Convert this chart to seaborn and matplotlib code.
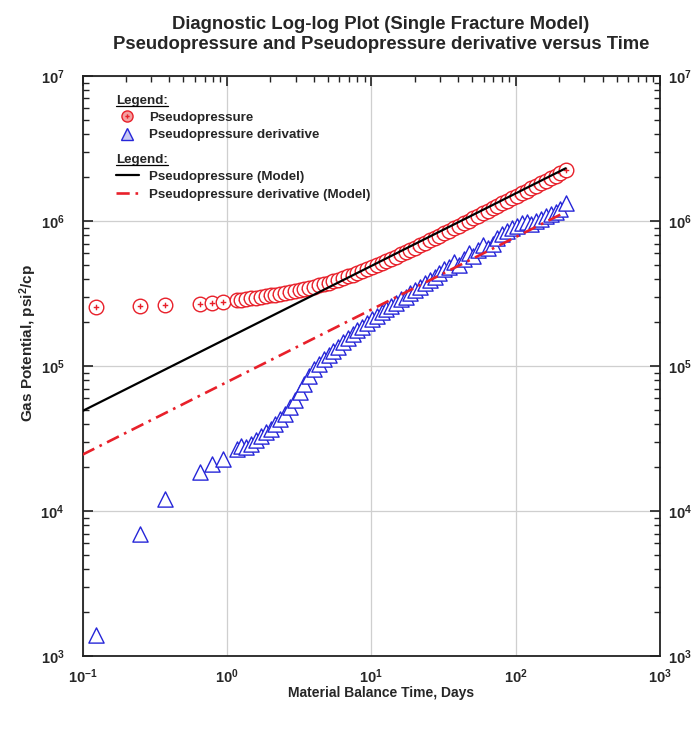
import numpy as np
import pandas as pd
import matplotlib
matplotlib.use("Agg")
import matplotlib.pyplot as plt
from matplotlib.path import Path
from matplotlib.lines import Line2D
import seaborn as sns

# ---------------- data ----------------
time_days = [0.125, 0.25, 0.375, 0.65, 0.79, 0.94,
             1.17, 1.26, 1.36, 1.47, 1.59, 1.72, 1.86, 2.01, 2.17, 2.34,
             2.53, 2.73, 2.95, 3.19, 3.44, 3.72, 4.02, 4.34, 4.69, 5.06,
             5.47, 5.90, 6.38, 6.89, 7.44, 8.03, 8.67, 9.37, 10.1, 10.9,
             11.8, 12.7, 13.8, 14.9, 16.1, 17.4, 18.7, 20.2, 21.9, 23.6,
             25.5, 27.5, 29.7, 32.1, 34.7, 37.5, 40.5, 43.7, 47.2, 51.0,
             55.1, 59.5, 64.2, 69.4, 74.9, 80.9, 87.4, 94.4, 102, 110,
             119, 128, 139, 150, 162, 175, 189, 204, 222]

pseudopressure = [2.55e5, 2.58e5, 2.62e5, 2.70e5, 2.74e5, 2.78e5,
                  2.84e5, 2.87e5, 2.90e5, 2.93e5, 2.96e5, 3.00e5, 3.03e5, 3.07e5, 3.11e5, 3.15e5,
                  3.19e5, 3.24e5, 3.29e5, 3.34e5, 3.40e5, 3.46e5, 3.53e5, 3.60e5, 3.68e5, 3.76e5,
                  3.85e5, 3.94e5, 4.04e5, 4.15e5, 4.26e5, 4.38e5, 4.51e5, 4.65e5, 4.80e5, 4.95e5,
                  5.12e5, 5.30e5, 5.48e5, 5.68e5, 5.88e5, 6.10e5, 6.33e5, 6.57e5, 6.82e5, 7.08e5,
                  7.35e5, 7.64e5, 7.94e5, 8.25e5, 8.58e5, 8.92e5, 9.28e5, 9.65e5, 1.004e6, 1.045e6,
                  1.087e6, 1.132e6, 1.178e6, 1.226e6, 1.276e6, 1.328e6, 1.382e6, 1.438e6, 1.498e6, 1.558e6,
                  1.622e6, 1.688e6, 1.755e6, 1.825e6, 1.90e6, 1.975e6, 2.055e6, 2.14e6, 2.24e6]

pseudopressure_derivative = [1.4e3, 7.0e3, 1.22e4, 1.85e4, 2.1e4, 2.3e4,
                             2.7e4, 2.8e4, 2.75e4, 2.9e4, 3.1e4, 3.3e4, 3.5e4, 3.7e4, 4.0e4, 4.3e4,
                             4.7e4, 5.2e4, 5.8e4, 6.6e4, 7.5e4, 8.5e4, 9.5e4, 1.04e5, 1.12e5, 1.20e5,
                             1.28e5, 1.36e5, 1.46e5, 1.56e5, 1.66e5, 1.76e5, 1.87e5, 1.98e5, 2.10e5, 2.23e5,
                             2.35e5, 2.46e5, 2.60e5, 2.72e5, 2.88e5, 3.00e5, 3.18e5, 3.35e5, 3.50e5, 3.75e5,
                             3.95e5, 4.10e5, 4.40e5, 4.65e5, 4.80e5, 5.20e5, 5.00e5, 5.50e5, 6.00e5, 5.70e5,
                             6.30e5, 6.80e5, 6.50e5, 7.00e5, 7.70e5, 8.20e5, 8.60e5, 9.00e5, 9.30e5, 9.70e5,
                             9.80e5, 9.50e5, 1.00e6, 1.04e6, 1.08e6, 1.12e6, 1.16e6, 1.22e6, 1.33e6]

model_time = [0.1, 1.0, 10.0, 100.0, 222.0]
model_pseudopressure = [4.9e4, 1.55e5, 4.9e5, 1.55e6, 2.31e6]
model_derivative = [2.45e4, 7.75e4, 2.45e5, 7.75e5, 1.155e6]

title_text = "Diagnostic Log-log Plot (Single Fracture Model)\nPseudopressure and Pseudopressure derivative versus Time"
xlabel_text = "Material Balance Time, Days"
ylabel_text = "Gas Potential, psi$^2$/cp"
legend_title = "Legend:"
labels_data = ["Pseudopressure", "Pseudopressure derivative"]
labels_model = ["Pseudopressure (Model)", "Pseudopressure derivative (Model)"]

# ---------------- style ----------------
sns.set_style("white")
plt.rcParams["font.family"] = ["Liberation Sans", "DejaVu Sans"]
plt.rcParams["font.weight"] = "bold"
plt.rcParams["mathtext.default"] = "bf"
plt.rcParams["mathtext.fontset"] = "custom"
plt.rcParams["mathtext.bf"] = "Liberation Sans:bold"
plt.rcParams["mathtext.rm"] = "Liberation Sans:bold"

RED = "#e8202a"
BLUE = "#2626d8"
DASHDOT = (0, (5, 2.2, 1, 2.2))

df = pd.DataFrame({"t": time_days, "p": pseudopressure, "d": pseudopressure_derivative})
dm = pd.DataFrame({"t": model_time, "p": model_pseudopressure, "d": model_derivative})

# circle-with-plus marker
circ = Path.unit_circle()
s = 0.38
plus = Path([(-s, 0), (s, 0), (0, -s), (0, s)],
            [Path.MOVETO, Path.LINETO, Path.MOVETO, Path.LINETO])
circle_plus = Path.make_compound_path(circ, plus)

fig = plt.figure(figsize=(6.91, 7.29), dpi=100)
ax = fig.add_axes([0.1194, 0.100, 0.8357, 0.7957])

sns.scatterplot(data=df, x="t", y="p", ax=ax, marker=circle_plus, s=110,
                facecolor="white", edgecolor=RED, linewidth=1.0, zorder=3, legend=False)
sns.scatterplot(data=df, x="t", y="d", ax=ax, marker="^", s=120,
                facecolor="white", edgecolor=BLUE, linewidth=1.0, zorder=3, legend=False)
sns.lineplot(data=dm, x="t", y="p", ax=ax, color="black", linewidth=1.6, zorder=4,
             legend=False, estimator=None, sort=False)
sns.lineplot(data=dm, x="t", y="d", ax=ax, color=RED, linewidth=1.9, zorder=4,
             legend=False, estimator=None, sort=False, linestyle=DASHDOT)

ax.set_xscale("log")
ax.set_yscale("log")
ax.set_xlim(0.1, 1000)
ax.set_ylim(1e3, 1e7)

ax.grid(True, which="major", color="#cfcfcf", linewidth=0.9)
ax.grid(False, which="minor")
ax.set_axisbelow(True)

for sp in ax.spines.values():
    sp.set_linewidth(1.3)
    sp.set_color("#222222")

ax.tick_params(which="both", direction="in", top=True, right=True,
               labelright=False, color="#222222")
ax.tick_params(which="major", length=7, width=1.2, labelsize=10.5)
ax.tick_params(axis="x", which="major", pad=8)
ax.tick_params(axis="y", which="major", pad=13)
ax.tick_params(which="minor", length=4, width=1.0)
for lab in ax.get_xticklabels() + ax.get_yticklabels():
    lab.set_fontweight("bold")

# right-side duplicate tick labels
ax2 = ax.twinx()
ax2.set_yscale("log")
ax2.set_ylim(1e3, 1e7)
ax2.tick_params(which="both", direction="in", right=True, color="#222222")
ax2.tick_params(which="major", length=7, width=1.2, labelsize=10.5, pad=6)
ax2.tick_params(which="minor", length=4, width=1.0)
for sp in ax2.spines.values():
    sp.set_visible(False)
for lab in ax2.get_yticklabels():
    lab.set_fontweight("bold")

ax.set_xlabel(xlabel_text, fontsize=10, fontweight="bold")
ax.set_ylabel(ylabel_text, fontsize=11, fontweight="bold")
ax.xaxis.set_label_coords(0.517, -0.052)
ax.yaxis.set_label_coords(-0.076, 0.54)
fig.suptitle(title_text, x=0.551, y=0.978, fontsize=13.3, fontweight="bold", linespacing=1.25)

# legends
h1 = [Line2D([], [], linestyle="none", marker=circle_plus, markersize=8,
             markerfacecolor="#f3a0a0", markeredgecolor=RED, markeredgewidth=1.0),
      Line2D([], [], linestyle="none", marker="^", markersize=8,
             markerfacecolor="#c8c8f4", markeredgecolor=BLUE, markeredgewidth=1.0)]
h2 = [Line2D([], [], color="black", linewidth=1.6),
      Line2D([], [], color=RED, linewidth=1.9, linestyle=DASHDOT)]

leg_kw = dict(loc="upper left", frameon=False, fontsize=9.6, title=legend_title,
              title_fontproperties={"weight": "bold", "size": 9.6}, alignment="left",
              handlelength=1.7, handletextpad=0.75, labelspacing=0.38,
              borderaxespad=0.0, borderpad=0.0)
leg1 = ax.legend(h1, labels_data, bbox_to_anchor=(0.058, 0.968), **leg_kw)
for t in leg1.get_texts():
    t.set_fontweight("bold")
ax.add_artist(leg1)
leg2 = ax.legend(h2, labels_model, bbox_to_anchor=(0.058, 0.866), **leg_kw)
for t in leg2.get_texts():
    t.set_fontweight("bold")

fig.canvas.draw()
r = fig.canvas.get_renderer()
for lg in (leg1, leg2):
    bb = lg.get_title().get_window_extent(r)
    inv = fig.transFigure.inverted()
    (x0, y0), (x1, y1) = inv.transform([(bb.x0, bb.y0), (bb.x1, bb.y0)])
    fig.add_artist(Line2D([x0, x1], [y0 + 0.001, y0 + 0.001], color="black",
                          linewidth=0.9, transform=fig.transFigure))

fig.savefig("out.png", dpi=100)
